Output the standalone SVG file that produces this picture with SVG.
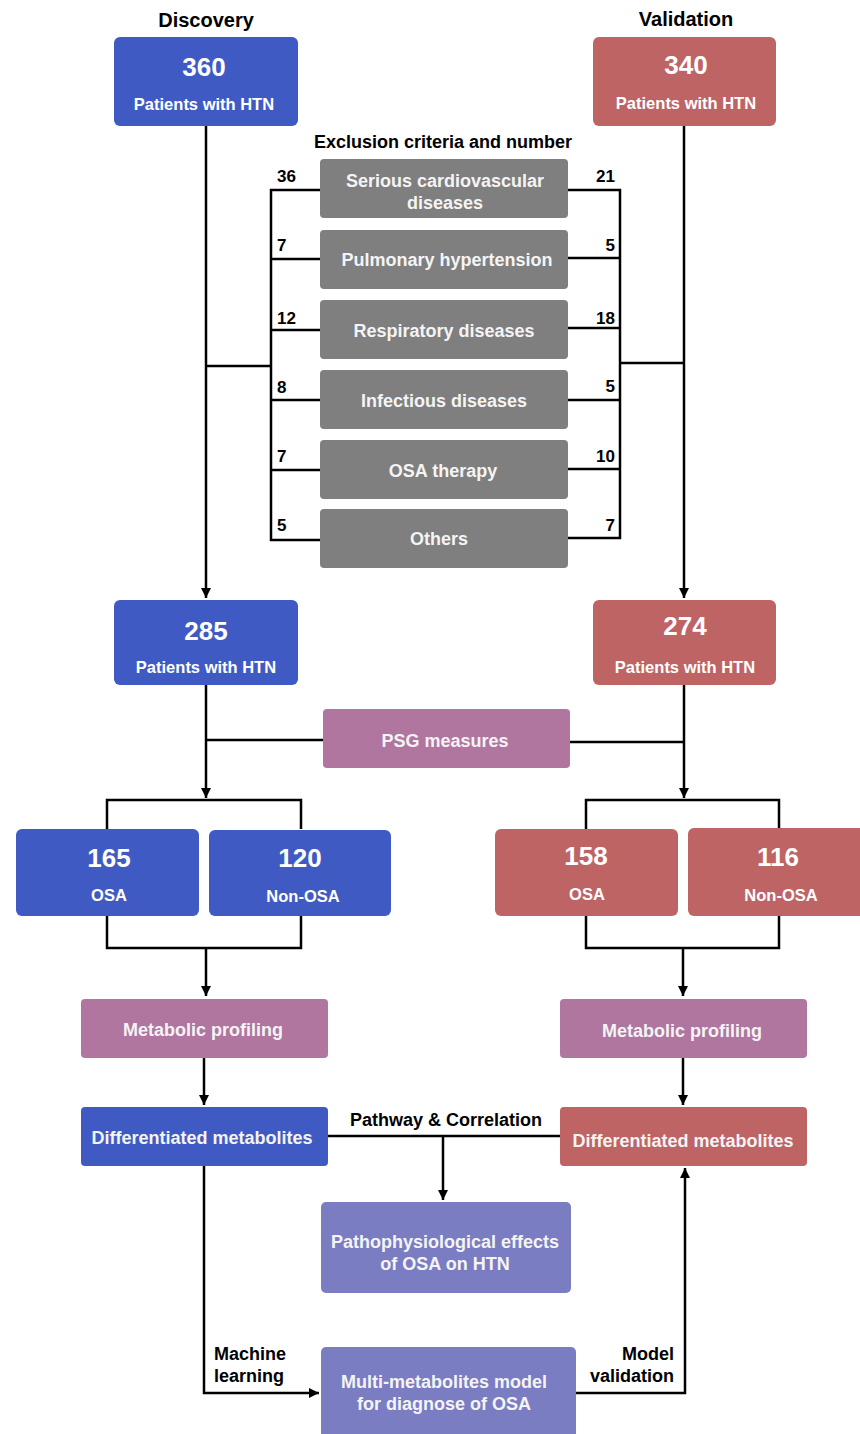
<svg xmlns="http://www.w3.org/2000/svg" width="860" height="1434" viewBox="0 0 860 1434">
<defs>
<marker id="ah" viewBox="0 0 10 10" refX="10" refY="5" markerWidth="4" markerHeight="4" orient="auto" markerUnits="strokeWidth">
<path d="M0,0 L10,5 L0,10 z" fill="#000"/>
</marker>
<style>
text{font-family:"Liberation Sans",Arial,sans-serif;font-weight:bold;text-anchor:middle}
.blue{fill:#3F5BC3}
.red{fill:#BE6464}
.gray{fill:#7F7F7F}
.mauve{fill:#B076A0}
.peri{fill:#7B7DC3}
.num{font-size:26px;fill:#fff}
.sub{font-size:16.5px;fill:#fff}
.lab{font-size:18px;fill:#f4f4f4}
.k{font-size:18px;fill:#000}
.hd{font-size:20px;fill:#000}
.n{font-size:17px;fill:#000}
.ln{fill:none;stroke:#000;stroke-width:2.5}
.ar{fill:none;stroke:#000;stroke-width:2.5;marker-end:url(#ah)}
</style>
</defs>
<text class="hd" x="206" y="27">Discovery</text>
<text class="hd" x="686" y="26">Validation</text>
<text class="k" x="443" y="148">Exclusion criteria and number</text>

<g id="connectors">
<path class="ar" d="M206,126 V598"/>
<path class="ln" d="M206,366 H271"/>
<path class="ln" d="M320,190 H271 V540 H320"/>
<path class="ln" d="M271,259 H320 M271,330 H320 M271,400 H320 M271,470 H320"/>
<path class="ar" d="M684,126 V598"/>
<path class="ln" d="M684,363 H620"/>
<path class="ln" d="M568,190 H620 V538 H568"/>
<path class="ln" d="M568,258 H620 M568,328 H620 M568,400 H620 M568,469 H620"/>
<path class="ar" d="M206,685 V798"/>
<path class="ln" d="M206,740 H323"/>
<path class="ar" d="M684,685 V798"/>
<path class="ln" d="M570,742 H684"/>
<path class="ln" d="M107,829 V800 H301 V829"/>
<path class="ln" d="M586,829 V800 H779 V829"/>
<path class="ln" d="M107,916 V948 H301 V916"/>
<path class="ar" d="M206,948 V996"/>
<path class="ln" d="M586,916 V948 H779 V916"/>
<path class="ar" d="M683,948 V996"/>
<path class="ar" d="M204,1058 V1105"/>
<path class="ar" d="M683,1058 V1105"/>
<path class="ln" d="M328,1136 H560"/>
<path class="ar" d="M443,1136 V1200"/>
<path class="ar" d="M204,1166 V1393 H319"/>
<path class="ar" d="M576,1393 H685 V1168"/>
</g>

<text class="k" x="350" y="1126" style="text-anchor:start">Pathway &amp; Correlation</text>
<text class="k" x="214" y="1360" style="text-anchor:start">Machine</text>
<text class="k" x="214" y="1382" style="text-anchor:start">learning</text>
<text class="k" x="674" y="1360" style="text-anchor:end">Model</text>
<text class="k" x="674" y="1382" style="text-anchor:end">validation</text>

<g id="d360"><rect class="blue" x="114" y="37" width="184" height="89" rx="6"/><text class="num" x="204" y="76">360</text><text class="sub" x="204" y="110">Patients with HTN</text></g>
<g id="v340"><rect class="red" x="593" y="37" width="183" height="89" rx="6"/><text class="num" x="686" y="74">340</text><text class="sub" x="686" y="109">Patients with HTN</text></g>

<g id="ex1"><rect class="gray" x="320" y="159" width="248" height="59" rx="4"/><text class="lab" x="445" y="187">Serious cardiovascular</text><text class="lab" x="445" y="209">diseases</text></g>
<g id="ex2"><rect class="gray" x="320" y="230" width="248" height="59" rx="4"/><text class="lab" x="447" y="266">Pulmonary hypertension</text></g>
<g id="ex3"><rect class="gray" x="320" y="300" width="248" height="59" rx="4"/><text class="lab" x="444" y="337">Respiratory diseases</text></g>
<g id="ex4"><rect class="gray" x="320" y="370" width="248" height="59" rx="4"/><text class="lab" x="444" y="407">Infectious diseases</text></g>
<g id="ex5"><rect class="gray" x="320" y="440" width="248" height="59" rx="4"/><text class="lab" x="443" y="477">OSA therapy</text></g>
<g id="ex6"><rect class="gray" x="320" y="509" width="248" height="59" rx="4"/><text class="lab" x="439" y="545">Others</text></g>

<g id="exnums">
<text class="n" x="277" y="182" style="text-anchor:start">36</text>
<text class="n" x="277" y="251" style="text-anchor:start">7</text>
<text class="n" x="277" y="324" style="text-anchor:start">12</text>
<text class="n" x="277" y="393" style="text-anchor:start">8</text>
<text class="n" x="277" y="462" style="text-anchor:start">7</text>
<text class="n" x="277" y="531" style="text-anchor:start">5</text>
<text class="n" x="615" y="182" style="text-anchor:end">21</text>
<text class="n" x="615" y="251" style="text-anchor:end">5</text>
<text class="n" x="615" y="324" style="text-anchor:end">18</text>
<text class="n" x="615" y="392" style="text-anchor:end">5</text>
<text class="n" x="615" y="462" style="text-anchor:end">10</text>
<text class="n" x="615" y="531" style="text-anchor:end">7</text>
</g>

<g id="d285"><rect class="blue" x="114" y="600" width="184" height="85" rx="6"/><text class="num" x="206" y="640">285</text><text class="sub" x="206" y="673">Patients with HTN</text></g>
<g id="v274"><rect class="red" x="593" y="600" width="183" height="85" rx="6"/><text class="num" x="685" y="635">274</text><text class="sub" x="685" y="673">Patients with HTN</text></g>

<g id="psg"><rect class="mauve" x="323" y="709" width="247" height="59" rx="4"/><text class="lab" x="445" y="747">PSG measures</text></g>

<g id="d165"><rect class="blue" x="16" y="829" width="183" height="87" rx="6"/><text class="num" x="109" y="867">165</text><text class="sub" x="109" y="901">OSA</text></g>
<g id="d120"><rect class="blue" x="209" y="830" width="182" height="86" rx="6"/><text class="num" x="300" y="867">120</text><text class="sub" x="303" y="902">Non-OSA</text></g>
<g id="v158"><rect class="red" x="495" y="829" width="183" height="87" rx="6"/><text class="num" x="586" y="865">158</text><text class="sub" x="587" y="900">OSA</text></g>
<g id="v116"><rect class="red" x="688" y="828" width="178" height="88" rx="6"/><text class="num" x="778" y="866">116</text><text class="sub" x="781" y="901">Non-OSA</text></g>

<g id="dmp"><rect class="mauve" x="81" y="999" width="247" height="59" rx="4"/><text class="lab" x="203" y="1036">Metabolic profiling</text></g>
<g id="vmp"><rect class="mauve" x="560" y="999" width="247" height="59" rx="4"/><text class="lab" x="682" y="1037">Metabolic profiling</text></g>

<g id="ddm"><rect class="blue" x="81" y="1107" width="247" height="59" rx="4"/><text class="lab" x="202" y="1144">Differentiated metabolites</text></g>
<g id="vdm"><rect class="red" x="560" y="1107" width="247" height="59" rx="4"/><text class="lab" x="683" y="1147">Differentiated metabolites</text></g>

<g id="patho"><rect class="peri" x="321" y="1202" width="250" height="91" rx="5"/><text class="lab" x="445" y="1248">Pathophysiological effects</text><text class="lab" x="445" y="1270">of OSA on HTN</text></g>
<g id="model"><rect class="peri" x="321" y="1347" width="255" height="100" rx="5"/><text class="lab" x="444" y="1388">Multi-metabolites model</text><text class="lab" x="444" y="1410">for diagnose of OSA</text></g>
</svg>
